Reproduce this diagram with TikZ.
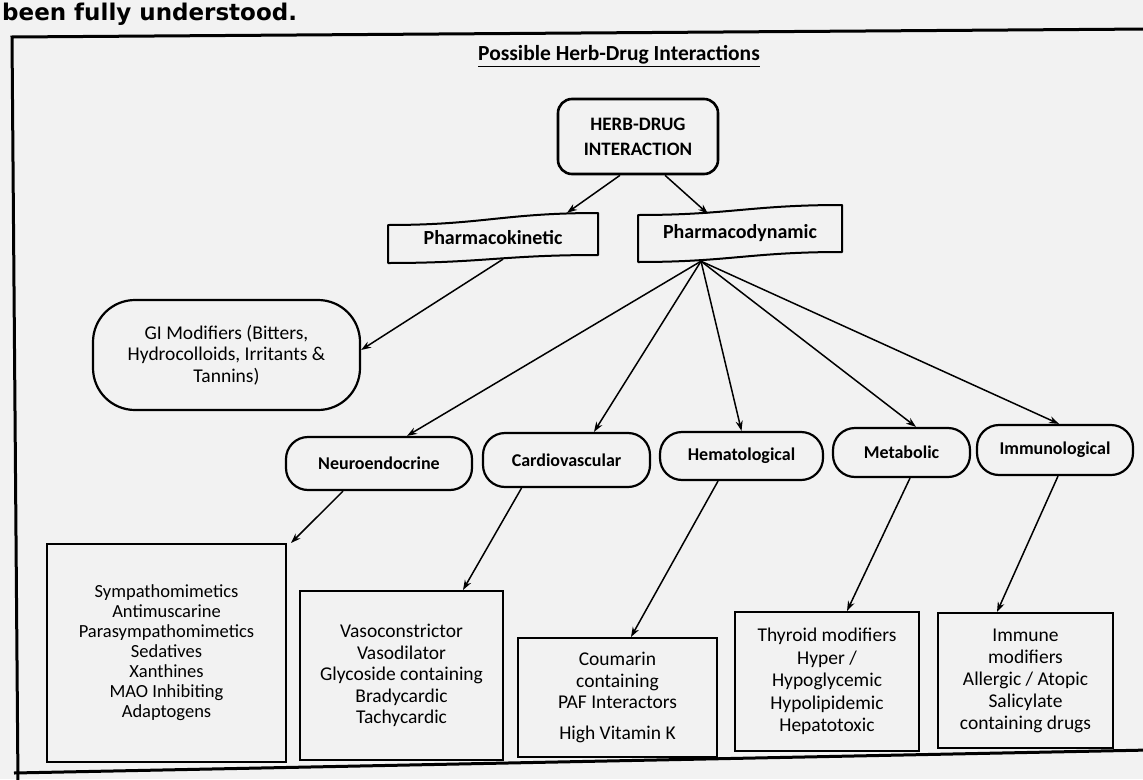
\documentclass[tikz,border=0pt]{standalone}
\usepackage{fontspec}
\setmainfont{Carlito}
\newfontfamily\djv{DejaVu Sans}
\usetikzlibrary{arrows.meta,calc}
\newcommand\labfont{\fontsize{18}{20}\selectfont\bfseries}
\newcommand\boxfont{\fontsize{19.5}{21.5}\selectfont}
\begin{document}
\begin{tikzpicture}[x=1pt,y=-1pt,
  pill/.style={draw, line width=2.2pt, rounded corners=22pt, inner sep=0pt, font=\labfont},
  sqbox/.style={draw, line width=2pt, inner sep=0pt, align=center, font=\boxfont},
  bann/.style={draw, line width=2pt, line join=round},
  arr/.style={line width=1.5pt, -{Stealth[length=10pt,width=7pt]}}]
\useasboundingbox (0,0) rectangle (1143,779);
\fill[black!5] (0,0) rectangle (1143,779);
% line of page text above the figure
\node[anchor=base west, inner sep=0pt, font=\djv\bfseries\fontsize{23}{25}\selectfont] (top) at (2,20) {been fully understood.};
% frame
\draw[line width=3pt] (1150,29) -- (12,37) -- (18,785);
\draw[line width=3pt] (14,773) -- (1150,750);
% title
\node[inner sep=0pt, font=\fontsize{21.5}{23}\selectfont\bfseries] (title) at (619,56) {\underline{Possible Herb-Drug Interactions}};
% top node
\node[draw, line width=2.6pt, rounded corners=14pt, minimum width=160pt, minimum height=75pt, inner sep=0pt, align=center, font=\fontsize{19}{25}\selectfont\bfseries] (hd) at (638,136.5) {HERB-DRUG\\INTERACTION};
% banners
\node[minimum width=210pt, minimum height=50pt, inner sep=0pt, font=\fontsize{20}{22}\selectfont\bfseries] (pk) at (493,238) {Pharmacokinetic};
\draw[bann] (388,225) .. controls (482.5,225) and (503.5,213) .. (598,213) -- (598,255) .. controls (503.5,255) and (482.5,263) .. (388,263) -- cycle;
\node[minimum width=204pt, minimum height=57pt, inner sep=0pt, font=\fontsize{20}{22}\selectfont\bfseries] (pd) at (740,233.5) {Pharmacodynamic};
\draw[bann] (638,215) .. controls (729.8,215) and (750.2,205) .. (842,205) -- (842,252) .. controls (750.2,252) and (729.8,262) .. (638,262) -- cycle;
% GI
\node[draw, line width=2.2pt, rounded corners=42pt, minimum width=267pt, minimum height=110pt, inner sep=0pt, align=center, font=\fontsize{19.5}{21.5}\selectfont] (gi) at (226.5,355) {GI Modifiers (Bitters,\\Hydrocolloids, Irritants \&\\Tannins)};
% pills
\node[pill, minimum width=186pt, minimum height=53pt] (ne) at (379,463.5) {Neuroendocrine};
\node[pill, minimum width=167pt, minimum height=54pt] (cv) at (566.5,460) {Cardiovascular};
\node[pill, minimum width=163pt, minimum height=48pt] (he) at (741.5,456) {Hematological};
\node[pill, minimum width=137pt, minimum height=49pt] (me) at (901.5,452.5) {Metabolic};
\node[pill, minimum width=156pt, minimum height=50pt] (im) at (1055,450) {Immunological};
% boxes
\node[sqbox, minimum width=239pt, minimum height=218pt, font=\fontsize{18.5}{20}\selectfont] (b1) at (166.5,653) {Sympathomimetics\\Antimuscarine\\Parasympathomimetics\\Sedatives\\Xanthines\\MAO Inhibiting\\Adaptogens};
\node[sqbox, minimum width=203pt, minimum height=169pt] (b2) at (401.5,675.5) {Vasoconstrictor\\Vasodilator\\Glycoside containing\\Bradycardic\\Tachycardic};
\node[sqbox, minimum width=199pt, minimum height=119pt] (b3) at (617.5,697.5) {Coumarin\\containing\\PAF Interactors\\[9pt]High Vitamin K};
\node[sqbox, minimum width=184pt, minimum height=139pt, font=\fontsize{19.5}{22.5}\selectfont] (b4) at (827,681.5) {Thyroid modifiers\\Hyper /\\Hypoglycemic\\Hypolipidemic\\Hepatotoxic};
\node[sqbox, minimum width=175pt, minimum height=135pt, font=\fontsize{19.5}{22}\selectfont] (b5) at (1025.5,680.5) {Immune\\modifiers\\Allergic / Atopic\\Salicylate\\containing drugs};
% connectors
\draw[arr] ([xshift=-18pt]hd.south) -- ([xshift=74pt]pk.north);
\draw[arr] ([xshift=27pt]hd.south) -- ([xshift=-32pt,yshift=-9pt]pd.north);
\draw[arr] ([xshift=10pt,yshift=4pt]pk.south) -- ([yshift=5pt]gi.east);
\draw[arr] ([xshift=-39pt,yshift=1pt]pd.south) -- ([xshift=28pt]ne.north);
\draw[arr] ([xshift=-39pt,yshift=1pt]pd.south) -- ([xshift=27.5pt]cv.north);
\draw[arr] ([xshift=-39pt,yshift=1pt]pd.south) -- (he.north);
\draw[arr] ([xshift=-39pt,yshift=1pt]pd.south) -- ([xshift=14.5pt]me.north);
\draw[arr] ([xshift=-39pt,yshift=1pt]pd.south) -- ([xshift=4pt]im.north);
\draw[arr] ([xshift=-36pt]ne.south) -- ([xshift=4pt]b1.north east);
\draw[arr] ([xshift=-45pt]cv.south) -- ([xshift=61.5pt]b2.north);
\draw[arr] ([xshift=-23.5pt]he.south) -- ([xshift=13.5pt]b3.north);
\draw[arr] ([xshift=8.5pt]me.south) -- ([xshift=20pt]b4.north);
\draw[arr] ([xshift=3pt]im.south) -- ([xshift=-28.5pt]b5.north);
\end{tikzpicture}
\end{document}
